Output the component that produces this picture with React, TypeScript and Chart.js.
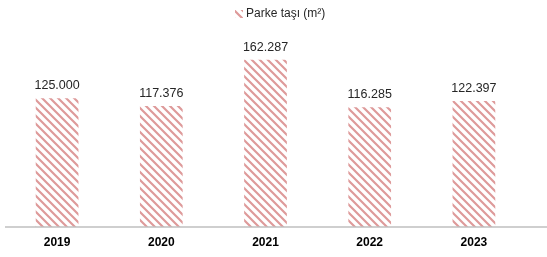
import React, { useEffect, useRef } from "react";
import { Chart, registerables } from "chart.js";

Chart.register(...registerables);

const categories = ["2019", "2020", "2021", "2022", "2023"];
const values = [125000, 117376, 162287, 116285, 122397];
const seriesName = "Parke taşı (m²)";
const yMax = 200000;

function makePattern(): CanvasPattern | string {
  const size = 8;
  const c = document.createElement("canvas");
  c.width = size;
  c.height = size;
  const g = c.getContext("2d");
  if (!g) return "#DE9A9A";
  g.fillStyle = "#ffffff";
  g.fillRect(0, 0, size, size);
  g.strokeStyle = "#DE9A9A";
  g.lineWidth = 2.2;
  g.beginPath();
  g.moveTo(-2, -2);
  g.lineTo(size + 2, size + 2);
  g.moveTo(-2, size - 2);
  g.lineTo(2, size + 2);
  g.moveTo(size - 2, -2);
  g.lineTo(size + 2, 2);
  g.stroke();
  const p = g.createPattern(c, "repeat");
  return p || "#DE9A9A";
}

function fmt(v: number): string {
  return String(v).replace(/\B(?=(\d{3})+(?!\d))/g, ".");
}

export default function App() {
  const ref = useRef<HTMLCanvasElement | null>(null);
  useEffect(() => {
    if (!ref.current) return;
    const pattern = makePattern();
    const extras = {
      id: "extras",
      afterDatasetsDraw(chart: any) {
        const ctx = chart.ctx;
        const area = chart.chartArea;
        ctx.save();
        ctx.strokeStyle = "#BFBFBF";
        ctx.lineWidth = 1.5;
        ctx.beginPath();
        ctx.moveTo(5, area.bottom);
        ctx.lineTo(chart.width, area.bottom);
        ctx.stroke();
        const meta = chart.getDatasetMeta(0);
        ctx.fillStyle = "#262626";
        ctx.font = "12.5px 'Liberation Sans', Arial, sans-serif";
        ctx.textAlign = "center";
        ctx.textBaseline = "bottom";
        meta.data.forEach((bar: any, i: number) => {
          ctx.fillText(fmt(values[i]), bar.x, bar.y - 6);
        });
        ctx.font = "12px 'Liberation Sans', Arial, sans-serif";
        ctx.textAlign = "left";
        ctx.textBaseline = "middle";
        ctx.fillStyle = "#262626";
        ctx.fillText(seriesName, 246, 14);
        ctx.fillStyle = pattern;
        ctx.fillRect(235, 10, 8, 8);
        ctx.restore();
      },
    };
    const chart = new Chart(ref.current, {
      type: "bar",
      data: {
        labels: categories,
        datasets: [
          {
            label: seriesName,
            data: values,
            backgroundColor: pattern as any,
            borderWidth: 0,
            categoryPercentage: 1,
            barPercentage: 0.41,
          },
        ],
      },
      options: {
        responsive: false,
        animation: false,
        layout: { padding: { left: 5, right: 21, top: 21, bottom: -2 } },
        plugins: { legend: { display: false }, tooltip: { enabled: false } },
        scales: {
          x: {
            grid: { display: false, drawTicks: false },
            border: { display: false },
            ticks: {
              color: "#000000",
              padding: 10,
              font: { family: "'Liberation Sans', Arial, sans-serif", size: 12, weight: "bold", lineHeight: 1 },
            },
          },
          y: {
            display: false,
            min: 0,
            max: yMax,
          },
        },
      },
      plugins: [extras],
    });
    return () => chart.destroy();
  }, []);
  return (
    <div style={{ position: "fixed", left: 0, top: 0, width: 547, height: 257, background: "#fff" }}>
      <canvas ref={ref} width={547} height={257} />
    </div>
  );
}
